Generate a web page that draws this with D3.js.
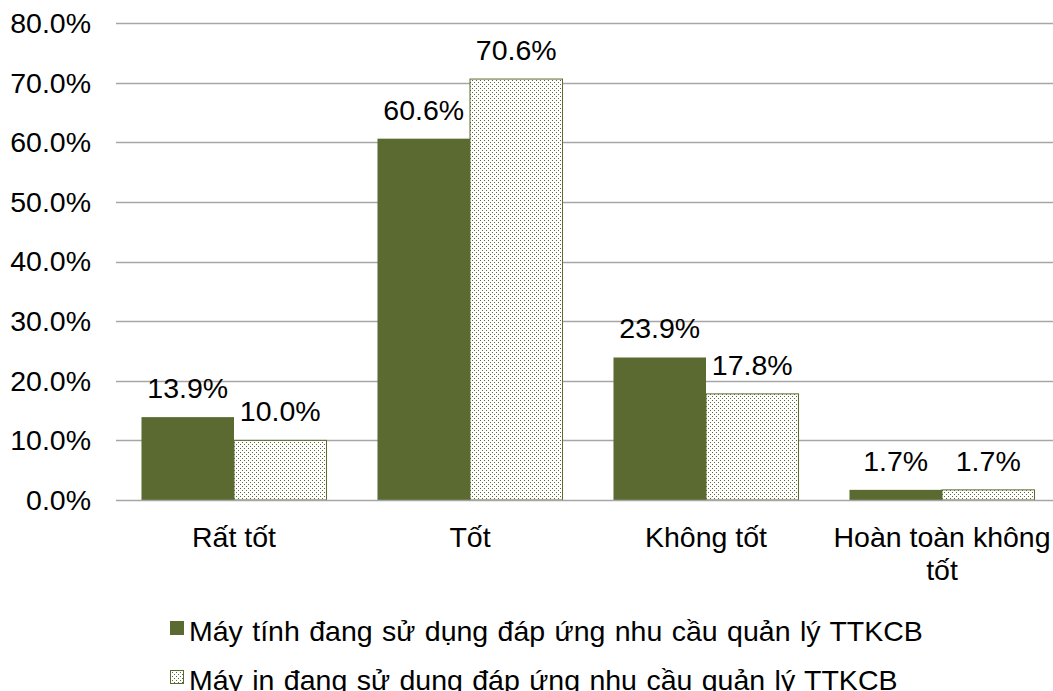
<!DOCTYPE html>
<html>
<head>
<meta charset="utf-8">
<script src="https://cdn.jsdelivr.net/npm/d3@7"></script>
<style>
  body { margin: 0; background: #fff; }
  text { font-family: Arial, "Liberation Sans", sans-serif; fill: #000; }
</style>
</head>
<body>
<svg id="chart"></svg>
<script>
var categories = ["Rất tốt", "Tốt", "Không tốt", "Hoàn toàn không tốt"];
var seriesNames = [
  "Máy tính đang sử dụng đáp ứng nhu cầu quản lý TTKCB",
  "Máy in đang sử dụng đáp ứng nhu cầu quản lý TTKCB"
];
var mayTinh = [13.9, 60.6, 23.9, 1.7];
var mayIn = [10.0, 70.6, 17.8, 1.7];
var yTicks = [0, 10, 20, 30, 40, 50, 60, 70, 80];

var width = 1053;
var height = 691;
var green = "#5a6a31";
var fontSize = 28.5;

var svg = d3.select("#chart")
            .attr("width", width)
            .attr("height", height);

// dotted fill for the second series
var defs = svg.append("defs");
var pat = defs.append("pattern")
  .attr("id", "dots")
  .attr("patternUnits", "userSpaceOnUse")
  .attr("width", 4)
  .attr("height", 4);
pat.append("rect").attr("width", 4).attr("height", 4).attr("fill", "#fff");
pat.append("rect").attr("x", 0).attr("y", 0).attr("width", 1).attr("height", 1).attr("fill", green);
pat.append("rect").attr("x", 2).attr("y", 2).attr("width", 1).attr("height", 1).attr("fill", green);

var x0 = d3.scaleBand()
  .domain(categories)
  .range([116, 1060])
  .paddingInner(0.216)
  .paddingOuter(0.108);

var x1 = d3.scaleBand()
  .domain([0, 1])
  .range([0, x0.bandwidth()]);

var y = d3.scaleLinear()
  .domain([0, 80])
  .range([500, 23]);

// gridlines
svg.append("g")
  .selectAll("line")
  .data(yTicks.slice(1))
  .enter().append("line")
  .attr("x1", 116)
  .attr("x2", width)
  .attr("y1", function(d) { return Math.round(y(d)) + 0.5; })
  .attr("y2", function(d) { return Math.round(y(d)) + 0.5; })
  .attr("stroke", "#a6a6a6")
  .attr("stroke-width", 1.3);

// y tick labels
svg.append("g")
  .selectAll("text")
  .data(yTicks)
  .enter().append("text")
  .text(function(d) { return d.toFixed(1) + "%"; })
  .attr("font-size", fontSize + "px")
  .attr("text-anchor", "end")
  .attr("dy", ".35em")
  .attr("x", 91)
  .attr("y", function(d) { return y(d); });

// bars
var series = [mayTinh, mayIn];
var bars = svg.append("g");
series.forEach(function(vals, s) {
  bars.selectAll(".s" + s)
    .data(vals)
    .enter().append("rect")
    .attr("x", function(d, i) { return x0(categories[i]) + x1(s); })
    .attr("y", function(d) { return y(d); })
    .attr("width", x1.bandwidth())
    .attr("height", function(d) { return y(0) - y(d); })
    .attr("fill", s === 0 ? green : "url(#dots)")
    .attr("stroke", s === 0 ? "none" : green)
    .attr("stroke-width", 1);

  bars.selectAll(".l" + s)
    .data(vals)
    .enter().append("text")
    .text(function(d) { return d.toFixed(1) + "%"; })
    .attr("font-size", fontSize + "px")
    .attr("text-anchor", "middle")
    .attr("x", function(d, i) { return x0(categories[i]) + x1(s) + x1.bandwidth() / 2; })
    .attr("y", function(d) { return y(d) - 19; });
});

// x axis line
svg.append("line")
  .attr("x1", 116)
  .attr("x2", width)
  .attr("y1", 500.5)
  .attr("y2", 500.5)
  .attr("stroke", "#a6a6a6")
  .attr("stroke-width", 1.5);

// category labels
var catLines = [["Rất tốt"], ["Tốt"], ["Không tốt"], ["Hoàn toàn không", "tốt"]];
var cats = svg.append("g");
categories.forEach(function(c, i) {
  var t = cats.append("text")
    .attr("font-size", fontSize + "px")
    .attr("text-anchor", "middle")
    .attr("x", x0(c) + x0.bandwidth() / 2)
    .attr("y", 547);
  catLines[i].forEach(function(line, j) {
    t.append("tspan")
      .attr("x", x0(c) + x0.bandwidth() / 2)
      .attr("dy", j === 0 ? 0 : 33)
      .text(line);
  });
});

// legend
var legend = svg.append("g");
seriesNames.forEach(function(name, i) {
  legend.append("rect")
    .attr("x", 170.5)
    .attr("y", 621.5 + i * 49)
    .attr("width", 13)
    .attr("height", 13)
    .attr("fill", i === 0 ? green : "url(#dots)")
    .attr("stroke", green)
    .attr("stroke-width", 1);

  legend.append("text")
    .text(name)
    .attr("font-size", fontSize + "px")
    .attr("word-spacing", "1.5px")
    .attr("x", 189)
    .attr("y", 641 + i * 49);
});
</script>
</body>
</html>
